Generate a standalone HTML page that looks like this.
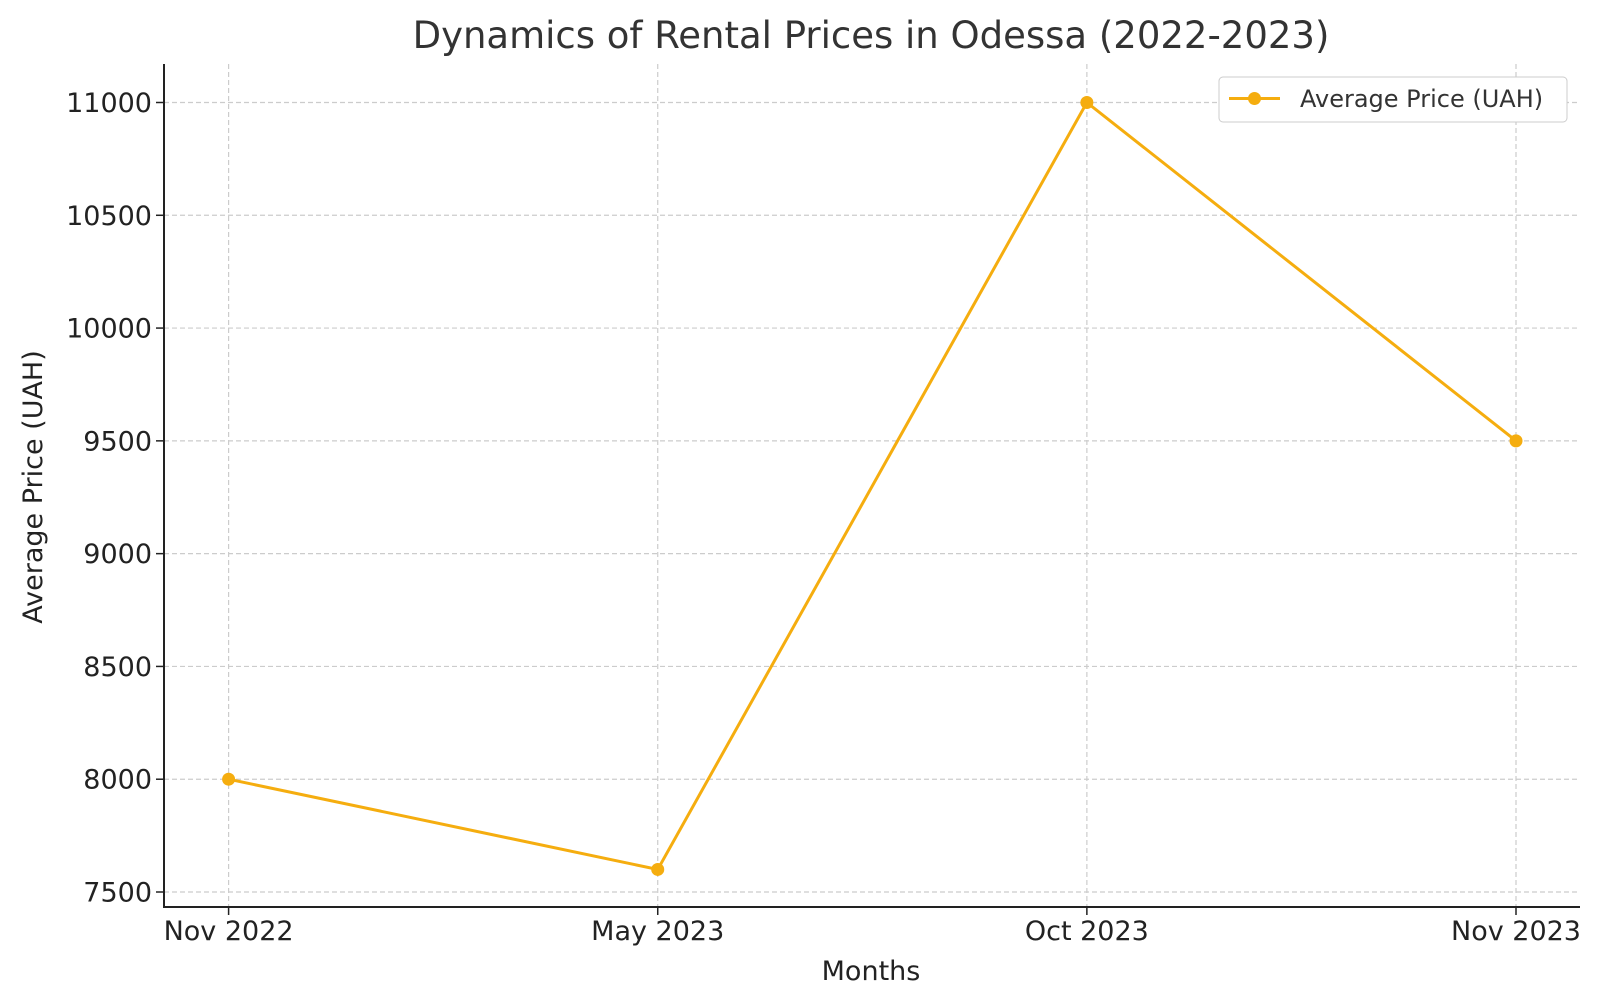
<!DOCTYPE html>
<html><head><meta charset="utf-8"><style>
body{margin:0;background:#fff;}
svg{display:block;font-family:"DejaVu Sans","Liberation Sans",sans-serif;}
</style></head><body>
<svg id="chart" width="1600" height="1001" viewBox="0 0 1600 1001">
<text x="871" y="48" text-anchor="middle" font-size="37" fill="#333">Dynamics of Rental Prices in Odessa (2022-2023)</text>
<g id="grid"></g>
<g id="axes"></g>
<g id="series"></g>
<text x="871" y="980" text-anchor="middle" font-size="27" fill="#222">Months</text>
<text transform="translate(42,487) rotate(-90)" text-anchor="middle" font-size="27" fill="#222">Average Price (UAH)</text>
<g>
<rect x="1219" y="77" width="348" height="45" rx="4" fill="#fff" stroke="#ccc"/>
<line x1="1229" y1="98.5" x2="1280" y2="98.5" stroke="#f5ad0f" stroke-width="3"/>
<circle cx="1254.5" cy="98.5" r="6.5" fill="#f5ad0f"/>
<text x="1300" y="107" font-size="24" fill="#333">Average Price (UAH)</text>
</g>
</svg>
<script>
const categories=["Nov 2022","May 2023","Oct 2023","Nov 2023"];
const prices=[8000,7600,11000,9500];
const yTicks=[7500,8000,8500,9000,9500,10000,10500,11000];
const NS="http://www.w3.org/2000/svg";
const L=164,R=1580,T=64,B=907;
function xs(i){return 228.6+i*(1516-228.6)/(categories.length-1);}
function ys(v){return 892-(v-7500)*(789.5/3500);}
function mk(tag,attrs,parent,text){const e=document.createElementNS(NS,tag);for(const k in attrs)e.setAttribute(k,attrs[k]);if(text!==undefined)e.textContent=text;parent.appendChild(e);return e;}
const grid=document.getElementById('grid'),axes=document.getElementById('axes'),ser=document.getElementById('series');
yTicks.forEach(v=>{
 const y=ys(v);
 const g=mk('line',{x1:L,x2:R,y1:y,y2:y,stroke:'#ccc','stroke-width':1.2,'stroke-dasharray':'5,3'},grid);
 
 
 const t=mk('line',{x1:L-8,x2:L,y1:y,y2:y,stroke:'#222','stroke-width':1.5},axes);
 
 
 const l=mk('text',{x:L-12,y:y+9.5,'text-anchor':'end','font-size':27,fill:'#222'},axes,String(v));
 
 
});
categories.forEach((c,i)=>{
 const x=xs(i);
 const g=mk('line',{x1:x,x2:x,y1:T,y2:B,stroke:'#ccc','stroke-width':1.2,'stroke-dasharray':'5,3'},grid);
 
 
 const t=mk('line',{x1:x,x2:x,y1:B,y2:B+8,stroke:'#222','stroke-width':1.5},axes);
 
 
 const l=mk('text',{x:x,y:940,'text-anchor':'middle','font-size':27,fill:'#222'},axes,c);
 
 
});
const sp=mk('path',{d:`M${L},${T}V${B}H${R}`,fill:'none',stroke:'#222','stroke-width':2},axes);


const pl=mk('polyline',{points:prices.map((v,i)=>xs(i)+','+ys(v)).join(' '),fill:'none',stroke:'#f5ad0f','stroke-width':3},ser);


prices.forEach((v,i)=>{
 const c=mk('circle',{cx:xs(i),cy:ys(v),r:6.5,fill:'#f5ad0f'},ser);
 
 
});
</script>
</body></html>
